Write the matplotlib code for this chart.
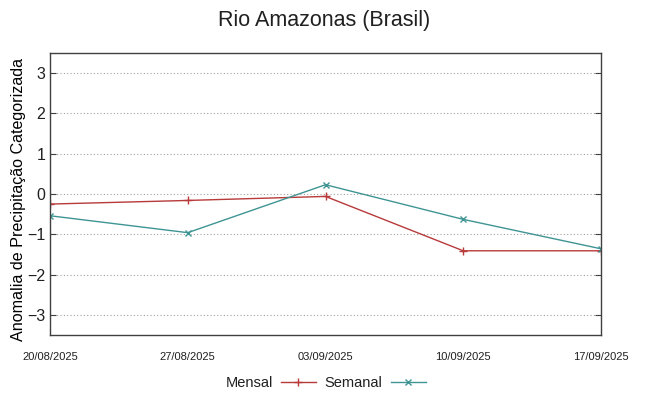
import numpy as np
import pandas as pd
import matplotlib
matplotlib.use("Agg")
import matplotlib.pyplot as plt
import matplotlib.dates as mdates

plt.rcParams['font.family'] = ['Liberation Sans', 'DejaVu Sans']
plt.rcParams['text.color'] = '#202020'

# weekly dates and the two series
datas = ["2025-08-20", "2025-08-27", "2025-09-03", "2025-09-10", "2025-09-17"]
mensal = [-0.25, -0.16, -0.06, -1.41, -1.41]
semanal = [-0.54, -0.96, 0.23, -0.63, -1.36]
yticks = [-3, -2, -1, 0, 1, 2, 3]

x = pd.to_datetime(datas)

fig = plt.figure(figsize=(6.49, 3.96), dpi=100)
ax = fig.add_axes([50/649, 1-335/396, 551/649, 282/396])

ax.plot(x, mensal, color="#b83a3a", lw=1.0, marker="+", ms=6, mew=1.0, label="Mensal")
ax.plot(x, semanal, color="#3f9494", lw=1.0, marker="x", ms=4.5, mew=1.0, label="Semanal")

ax.set_xlim(x[0], x[-1])
ax.set_ylim(-3.5, 3.5)
ax.set_yticks(yticks)
ax.set_xticks(x)
ax.xaxis.set_major_formatter(mdates.DateFormatter("%d/%m/%Y"))
ax.tick_params(axis="x", labelsize=8, length=0, pad=12, labelcolor="#202020")
ax.tick_params(axis="y", labelsize=11.5, direction="in", length=4, right=True,
               color="#404040", labelcolor="#202020")
ax.grid(axis="y", ls=(0, (1, 2)), color="#a0a0a0", lw=0.8)
for s in ax.spines.values():
    s.set_color("#404040")
    s.set_linewidth(1.0)

ax.set_ylabel("Anomalia de Precipitação Categorizada", fontsize=11.6)
ax.yaxis.set_label_coords(-0.044, 0.48)
fig.suptitle("Rio Amazonas (Brasil)", fontsize=15.5, y=0.975)

leg = ax.legend(loc="upper center", bbox_to_anchor=(0.5, -0.10), ncol=2, frameon=False,
                fontsize=10.5, markerfirst=False, handlelength=2.4, columnspacing=0.6,
                handletextpad=0.55)

fig.savefig("out.png", dpi=100)
